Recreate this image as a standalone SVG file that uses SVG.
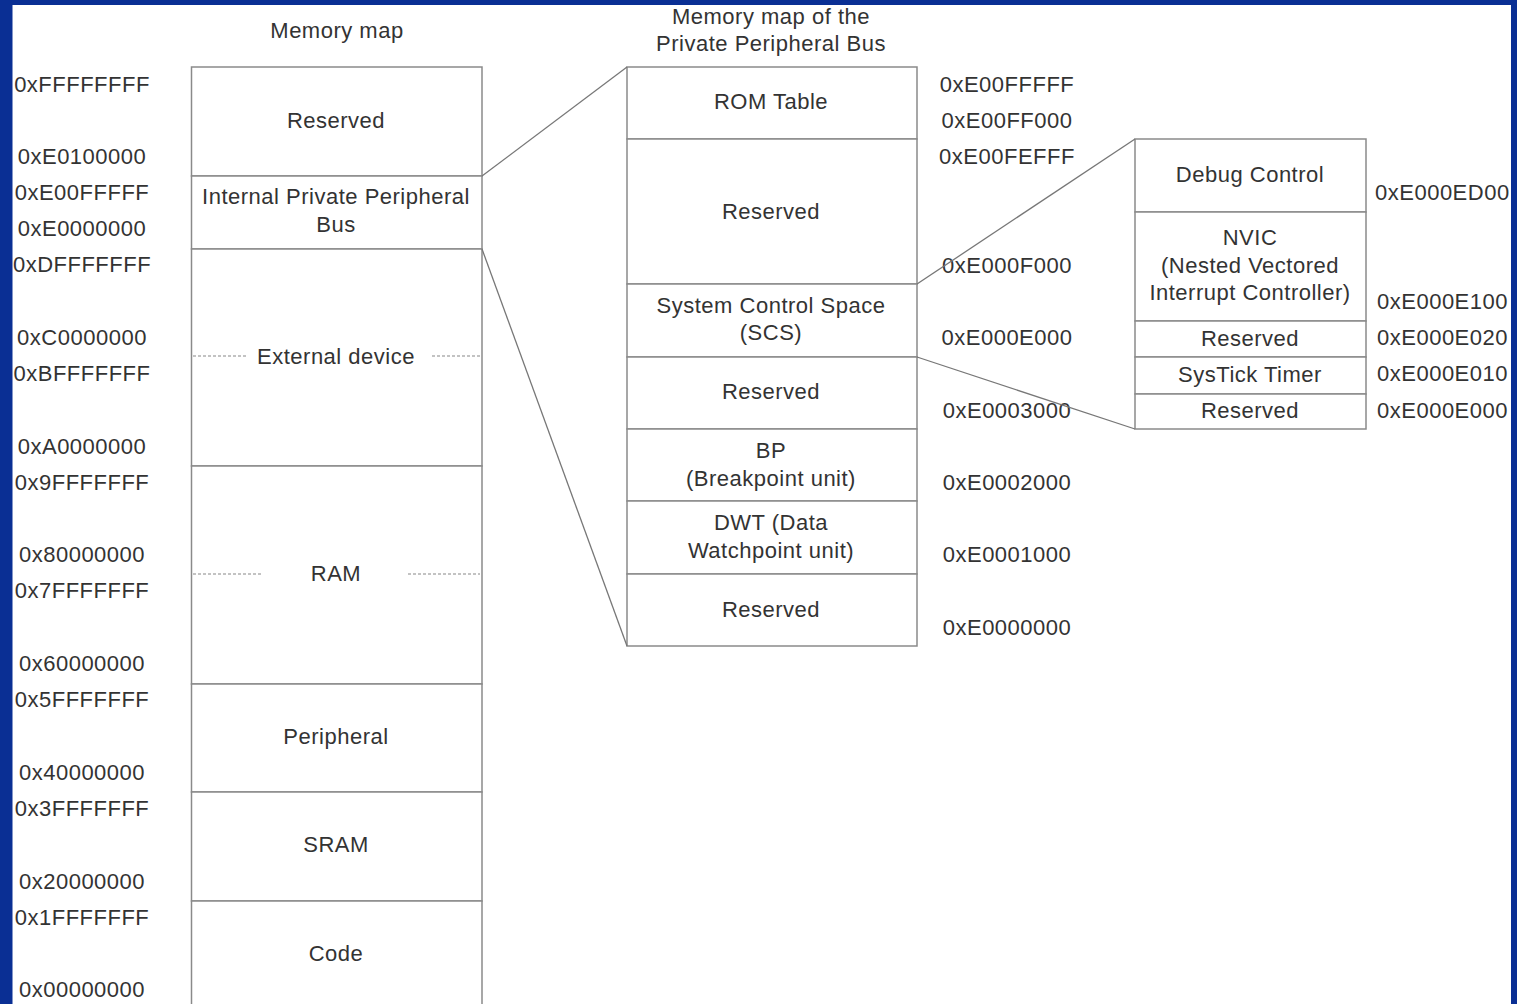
<svg xmlns="http://www.w3.org/2000/svg" width="1517" height="1004" viewBox="0 0 1517 1004">
<style>
text{font-family:"Liberation Sans",Arial,sans-serif;font-size:22px;letter-spacing:0.5px;fill:#333;}
.c{text-anchor:middle;}
.box{fill:#fff;stroke:#8a8a8a;stroke-width:1.5;}
.conn{stroke:#777;stroke-width:1.3;fill:none;}
.dash{stroke:#888;stroke-width:1.2;stroke-dasharray:3 2;}
</style>
<rect x="0" y="0" width="1517" height="1004" fill="#fff"/>
<g id="titles">
<text class="c" x="337" y="38">Memory map</text>
<text class="c" x="771" y="24">Memory map of the</text>
<text class="c" x="771" y="51">Private Peripheral Bus</text>
</g>
<g id="left-addresses">
<text class="c" x="82" y="92">0xFFFFFFFF</text>
<text class="c" x="82" y="164">0xE0100000</text>
<text class="c" x="82" y="200">0xE00FFFFF</text>
<text class="c" x="82" y="236">0xE0000000</text>
<text class="c" x="82" y="272">0xDFFFFFFF</text>
<text class="c" x="82" y="345">0xC0000000</text>
<text class="c" x="82" y="381">0xBFFFFFFF</text>
<text class="c" x="82" y="454">0xA0000000</text>
<text class="c" x="82" y="490">0x9FFFFFFF</text>
<text class="c" x="82" y="562">0x80000000</text>
<text class="c" x="82" y="598">0x7FFFFFFF</text>
<text class="c" x="82" y="671">0x60000000</text>
<text class="c" x="82" y="707">0x5FFFFFFF</text>
<text class="c" x="82" y="780">0x40000000</text>
<text class="c" x="82" y="816">0x3FFFFFFF</text>
<text class="c" x="82" y="889">0x20000000</text>
<text class="c" x="82" y="925">0x1FFFFFFF</text>
<text class="c" x="82" y="997">0x00000000</text>
</g>
<g id="mm-reserved"><rect class="box" x="191.5" y="67" width="290.5" height="109"/><text class="c" x="336" y="128">Reserved</text></g>
<g id="mm-ippb"><rect class="box" x="191.5" y="176" width="290.5" height="73"/><text class="c" x="336" y="204">Internal Private Peripheral</text><text class="c" x="336" y="232">Bus</text></g>
<g id="mm-external"><rect class="box" x="191.5" y="249" width="290.5" height="217"/><line class="dash" x1="193" y1="356" x2="247" y2="356"/><line class="dash" x1="432" y1="356" x2="480" y2="356"/><text class="c" x="336" y="364">External device</text></g>
<g id="mm-ram"><rect class="box" x="191.5" y="466" width="290.5" height="218"/><line class="dash" x1="193" y1="574" x2="263" y2="574"/><line class="dash" x1="408" y1="574" x2="480" y2="574"/><text class="c" x="336" y="581">RAM</text></g>
<g id="mm-peripheral"><rect class="box" x="191.5" y="684" width="290.5" height="108"/><text class="c" x="336" y="744">Peripheral</text></g>
<g id="mm-sram"><rect class="box" x="191.5" y="792" width="290.5" height="109"/><text class="c" x="336" y="852">SRAM</text></g>
<g id="mm-code"><rect class="box" x="191.5" y="901" width="290.5" height="120"/><text class="c" x="336" y="961">Code</text></g>

<g id="ppb-rom"><rect class="box" x="627" y="67" width="290" height="72"/><text class="c" x="771" y="109">ROM Table</text></g>
<g id="ppb-reserved1"><rect class="box" x="627" y="139" width="290" height="145"/><text class="c" x="771" y="219">Reserved</text></g>
<g id="ppb-scs"><rect class="box" x="627" y="284" width="290" height="73"/><text class="c" x="771" y="313">System Control Space</text><text class="c" x="771" y="340">(SCS)</text></g>
<g id="ppb-reserved2"><rect class="box" x="627" y="357" width="290" height="72"/><text class="c" x="771" y="399">Reserved</text></g>
<g id="ppb-bp"><rect class="box" x="627" y="429" width="290" height="72"/><text class="c" x="771" y="458">BP</text><text class="c" x="771" y="486">(Breakpoint unit)</text></g>
<g id="ppb-dwt"><rect class="box" x="627" y="501" width="290" height="73"/><text class="c" x="771" y="530">DWT (Data</text><text class="c" x="771" y="558">Watchpoint unit)</text></g>
<g id="ppb-reserved3"><rect class="box" x="627" y="574" width="290" height="72"/><text class="c" x="771" y="617">Reserved</text></g>

<g id="ppb-addresses">
<text class="c" x="1007" y="92">0xE00FFFFF</text>
<text class="c" x="1007" y="128">0xE00FF000</text>
<text class="c" x="1007" y="164">0xE00FEFFF</text>
<text class="c" x="1007" y="273">0xE000F000</text>
<text class="c" x="1007" y="345">0xE000E000</text>
<text class="c" x="1007" y="418">0xE0003000</text>
<text class="c" x="1007" y="490">0xE0002000</text>
<text class="c" x="1007" y="562">0xE0001000</text>
<text class="c" x="1007" y="635">0xE0000000</text>
</g>

<g id="scs-debug"><rect class="box" x="1135" y="139" width="231" height="73"/><text class="c" x="1250" y="182">Debug Control</text></g>
<g id="scs-nvic"><rect class="box" x="1135" y="212" width="231" height="109"/><text class="c" x="1250" y="245">NVIC</text><text class="c" x="1250" y="273">(Nested Vectored</text><text class="c" x="1250" y="300">Interrupt Controller)</text></g>
<g id="scs-reserved1"><rect class="box" x="1135" y="321" width="231" height="36"/><text class="c" x="1250" y="346">Reserved</text></g>
<g id="scs-systick"><rect class="box" x="1135" y="357" width="231" height="37"/><text class="c" x="1250" y="382">SysTick Timer</text></g>
<g id="scs-reserved2"><rect class="box" x="1135" y="394" width="231" height="35"/><text class="c" x="1250" y="418">Reserved</text></g>

<g id="scs-addresses">
<text x="1375" y="200">0xE000ED00</text>
<text x="1377" y="309">0xE000E100</text>
<text x="1377" y="345">0xE000E020</text>
<text x="1377" y="381">0xE000E010</text>
<text x="1377" y="418">0xE000E000</text>
</g>

<g id="connectors">
<line class="conn" x1="482" y1="176" x2="627" y2="67"/>
<line class="conn" x1="482" y1="249" x2="627" y2="646"/>
<line class="conn" x1="917" y1="284" x2="1135" y2="139"/>
<line class="conn" x1="917" y1="357" x2="1135" y2="429"/>
</g>

<path id="frame" fill="#0a2f94" fill-rule="evenodd" d="M0 0H1517V1004H0Z M12.5 5H1511V1004H12.5Z"/>
</svg>
